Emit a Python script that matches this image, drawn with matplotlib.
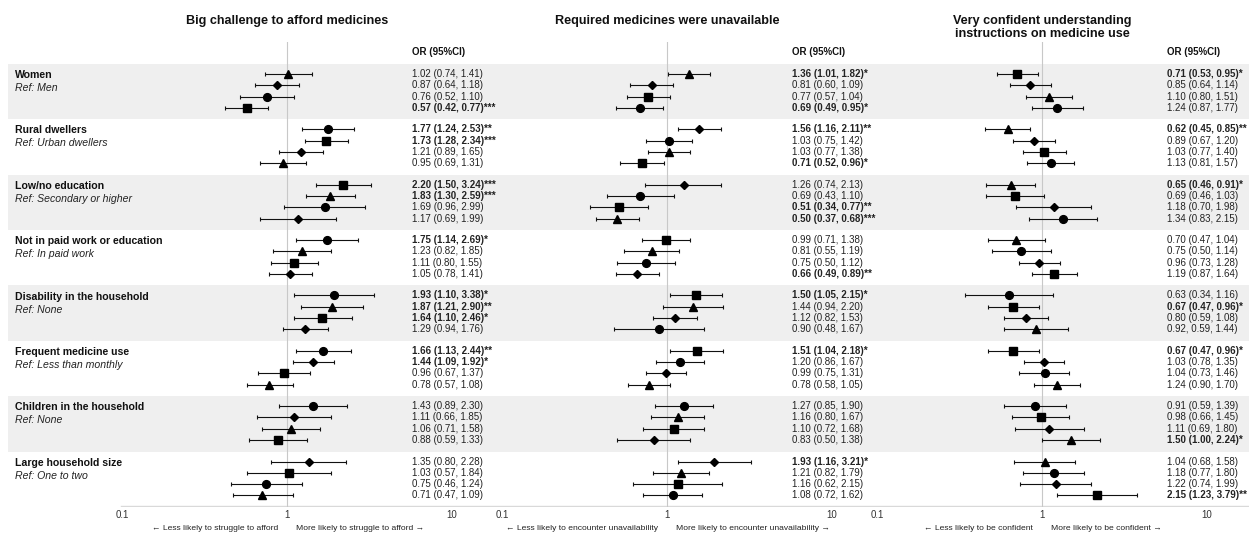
import matplotlib
matplotlib.use("Agg")
import matplotlib.pyplot as plt
import matplotlib.transforms as mtransforms

plt.rcParams["font.family"] = ["Liberation Sans", "DejaVu Sans"]

# ---- data -------------------------------------------------------------
groups = ["Women", "Rural dwellers", "Low/no education",
          "Not in paid work or education", "Disability in the household",
          "Frequent medicine use", "Children in the household",
          "Large household size"]
refs = ["Ref: Men", "Ref: Urban dwellers", "Ref: Secondary or higher",
        "Ref: In paid work", "Ref: None", "Ref: Less than monthly",
        "Ref: None", "Ref: One to two"]

titles = ["Big challenge to afford medicines",
          "Required medicines were unavailable",
          "Very confident understanding\ninstructions on medicine use"]
arrow_left = ["\u2190 Less likely to struggle to afford",
              "\u2190 Less likely to encounter unavailability",
              "\u2190 Less likely to be confident"]
arrow_right = ["More likely to struggle to afford \u2192",
               "More likely to encounter unavailability \u2192",
               "More likely to be confident \u2192"]
tick_vals = [0.1, 1, 10]
tick_labels = ["0.1", "1", "10"]

# shapes: sq=square, ci=circle, tr=triangle, di=diamond
afford_shape = [["tr", "di", "ci", "sq"], ["ci", "sq", "di", "tr"],
                ["sq", "tr", "ci", "di"], ["ci", "tr", "sq", "di"],
                ["ci", "tr", "sq", "di"], ["ci", "di", "sq", "tr"],
                ["ci", "di", "tr", "sq"], ["di", "sq", "ci", "tr"]]
afford_or = [[1.02, 0.87, 0.76, 0.57], [1.77, 1.73, 1.21, 0.95],
             [2.20, 1.83, 1.69, 1.17], [1.75, 1.23, 1.11, 1.05],
             [1.93, 1.87, 1.64, 1.29], [1.66, 1.44, 0.96, 0.78],
             [1.43, 1.11, 1.06, 0.88], [1.35, 1.03, 0.75, 0.71]]
afford_lo = [[0.74, 0.64, 0.52, 0.42], [1.24, 1.28, 0.89, 0.69],
             [1.50, 1.30, 0.96, 0.69], [1.14, 0.82, 0.80, 0.78],
             [1.10, 1.21, 1.10, 0.94], [1.13, 1.09, 0.67, 0.57],
             [0.89, 0.66, 0.71, 0.59], [0.80, 0.57, 0.46, 0.47]]
afford_hi = [[1.41, 1.18, 1.10, 0.77], [2.53, 2.34, 1.65, 1.31],
             [3.24, 2.59, 2.99, 1.99], [2.69, 1.85, 1.55, 1.41],
             [3.38, 2.90, 2.46, 1.76], [2.44, 1.92, 1.37, 1.08],
             [2.30, 1.85, 1.58, 1.33], [2.28, 1.84, 1.24, 1.09]]
afford_sig = [["", "", "", "***"], ["**", "***", "", ""],
              ["***", "***", "", ""], ["*", "", "", ""],
              ["*", "**", "*", ""], ["**", "*", "", ""],
              ["", "", "", ""], ["", "", "", ""]]

unavail_shape = [["tr", "di", "sq", "ci"], ["di", "ci", "tr", "sq"],
                 ["di", "ci", "sq", "tr"], ["sq", "tr", "ci", "di"],
                 ["sq", "tr", "di", "ci"], ["sq", "ci", "di", "tr"],
                 ["ci", "tr", "sq", "di"], ["di", "tr", "sq", "ci"]]
unavail_or = [[1.36, 0.81, 0.77, 0.69], [1.56, 1.03, 1.03, 0.71],
              [1.26, 0.69, 0.51, 0.50], [0.99, 0.81, 0.75, 0.66],
              [1.50, 1.44, 1.12, 0.90], [1.51, 1.20, 0.99, 0.78],
              [1.27, 1.16, 1.10, 0.83], [1.93, 1.21, 1.16, 1.08]]
unavail_lo = [[1.01, 0.60, 0.57, 0.49], [1.16, 0.75, 0.77, 0.52],
              [0.74, 0.43, 0.34, 0.37], [0.71, 0.55, 0.50, 0.49],
              [1.05, 0.94, 0.82, 0.48], [1.04, 0.86, 0.75, 0.58],
              [0.85, 0.80, 0.72, 0.50], [1.16, 0.82, 0.62, 0.72]]
unavail_hi = [[1.82, 1.09, 1.04, 0.95], [2.11, 1.42, 1.38, 0.96],
              [2.13, 1.10, 0.77, 0.68], [1.38, 1.19, 1.12, 0.89],
              [2.15, 2.20, 1.53, 1.67], [2.18, 1.67, 1.31, 1.05],
              [1.90, 1.67, 1.68, 1.38], [3.21, 1.79, 2.15, 1.62]]
unavail_sig = [["*", "", "", "*"], ["**", "", "", "*"],
               ["", "", "**", "***"], ["", "", "", "**"],
               ["*", "", "", ""], ["*", "", "", ""],
               ["", "", "", ""], ["*", "", "", ""]]

confid_shape = [["sq", "di", "tr", "ci"], ["tr", "di", "sq", "ci"],
                ["tr", "sq", "di", "ci"], ["tr", "ci", "di", "sq"],
                ["ci", "sq", "di", "tr"], ["sq", "di", "ci", "tr"],
                ["ci", "sq", "di", "tr"], ["tr", "ci", "di", "sq"]]
confid_or = [[0.71, 0.85, 1.10, 1.24], [0.62, 0.89, 1.03, 1.13],
             [0.65, 0.69, 1.18, 1.34], [0.70, 0.75, 0.96, 1.19],
             [0.63, 0.67, 0.80, 0.92], [0.67, 1.03, 1.04, 1.24],
             [0.91, 0.98, 1.11, 1.50], [1.04, 1.18, 1.22, 2.15]]
confid_lo = [[0.53, 0.64, 0.80, 0.87], [0.45, 0.67, 0.77, 0.81],
             [0.46, 0.46, 0.70, 0.83], [0.47, 0.50, 0.73, 0.87],
             [0.34, 0.47, 0.59, 0.59], [0.47, 0.78, 0.73, 0.90],
             [0.59, 0.66, 0.69, 1.00], [0.68, 0.77, 0.74, 1.23]]
confid_hi = [[0.95, 1.14, 1.51, 1.77], [0.85, 1.20, 1.40, 1.57],
             [0.91, 1.03, 1.98, 2.15], [1.04, 1.14, 1.28, 1.64],
             [1.16, 0.96, 1.08, 1.44], [0.96, 1.35, 1.46, 1.70],
             [1.39, 1.45, 1.80, 2.24], [1.58, 1.80, 1.99, 3.79]]
confid_sig = [["*", "", "", ""], ["**", "", "", ""],
              ["*", "", "", ""], ["", "", "", ""],
              ["", "*", "", ""], ["*", "", "", ""],
              ["", "", "", "*"], ["", "", "", "**"]]

panels = [
    (afford_shape, afford_or, afford_lo, afford_hi, afford_sig),
    (unavail_shape, unavail_or, unavail_lo, unavail_hi, unavail_sig),
    (confid_shape, confid_or, confid_lo, confid_hi, confid_sig),
]

# the source table prints this one cell without its opening bracket
text_override = {(2, 4, 3): "0.92, 0.59, 1.44)"}

# ---- layout -----------------------------------------------------------
W, H = 1249, 534
top_px, bot_px = 42, 507
row_px = 11.3
group_step = 4.9
band_pad = 0.88
y_hi = -band_pad - (64 - top_px) / row_px
y_lo = -band_pad + (bot_px - 64) / row_px
decade_px = 165
ax_w = 370
panel_left = [122, 502, 877]

shape_style = {"sq": ("s", 5.6), "ci": ("o", 5.6),
               "tr": ("^", 6.0), "di": ("D", 3.7)}

fig = plt.figure(figsize=(W / 100, H / 100), dpi=100)

# background: alternating bands and group labels
bg = fig.add_axes([8 / W, (H - bot_px) / H, (W - 8) / W, (bot_px - top_px) / H])
bg.set_xlim(8, W)
bg.set_ylim(y_lo, y_hi)
bg.axis("off")
for i in range(len(groups)):
    y0 = i * group_step
    if i % 2 == 0:
        bg.axhspan(y0 - band_pad, y0 - band_pad + group_step,
                   color="#efefef", lw=0, zorder=0)
    bg.text(15, y0 + 0.1, groups[i], fontsize=7.6, fontweight="bold",
            va="center", ha="left", color="#111111")
    bg.text(15, y0 + 1.25, refs[i], fontsize=7.6, style="italic",
            va="center", ha="left", color="#222222")
bg.axhline(y_lo - 0.05, xmin=(121 - 8) / (W - 8), xmax=1,
           color="#d9d9d9", lw=1.0)

for k, (shape, orv, lo, hi, sig) in enumerate(panels):
    ax = fig.add_axes([panel_left[k] / W, (H - bot_px) / H, ax_w / W,
                       (bot_px - top_px) / H])
    ax.set_xscale("log")
    ax.set_xlim(0.1, 10 ** (-1 + ax_w / decade_px))
    ax.set_ylim(y_lo, y_hi)
    ax.patch.set_alpha(0)
    for s in ax.spines.values():
        s.set_visible(False)
    ax.set_xticks(tick_vals)
    ax.set_xticklabels(tick_labels)
    ax.minorticks_off()
    ax.tick_params(axis="x", length=0, pad=2.5, labelsize=7,
                   labelcolor="#333333")
    ax.set_yticks([])
    ax.axvline(1, color="#c8c8c8", lw=0.8, zorder=0)

    ax.text(5.7, y_hi + 0.9, "OR (95%CI)", fontsize=7, fontweight="bold",
            va="center", ha="left", color="#111111")

    for i in range(len(groups)):
        for j in range(4):
            y = i * group_step + j
            m, ms = shape_style[shape[i][j]]
            ax.errorbar(orv[i][j], y,
                        xerr=[[orv[i][j] - lo[i][j]], [hi[i][j] - orv[i][j]]],
                        fmt="none", ecolor="#111111", elinewidth=0.8,
                        capsize=1.6, capthick=0.8, zorder=2)
            ax.plot(orv[i][j], y, marker=m, ms=ms, color="black",
                    ls="none", zorder=3)
            label = "%.2f (%.2f, %.2f)%s" % (orv[i][j], lo[i][j],
                                             hi[i][j], sig[i][j])
            label = text_override.get((k, i, j), label)
            ax.text(5.7, y, label, fontsize=7,
                    fontweight="bold" if sig[i][j] else "normal",
                    va="center", ha="left", color="#222222")

    trans = mtransforms.blended_transform_factory(ax.transData, fig.transFigure)
    ax.text(1, 1 - 15 / H, titles[k], transform=trans, ha="center", va="top",
            fontsize=9.1, fontweight="bold", linespacing=1.1,
            color="#111111")
    t_left = mtransforms.offset_copy(trans, fig=fig, x=-9, units="dots")
    t_right = mtransforms.offset_copy(trans, fig=fig, x=9, units="dots")
    ax.text(1, 1 - 529 / H, arrow_left[k], transform=t_left, ha="right",
            va="center", fontsize=6.1, color="#222222")
    ax.text(1, 1 - 529 / H, arrow_right[k], transform=t_right, ha="left",
            va="center", fontsize=6.1, color="#222222")

fig.savefig("out.png", dpi=100)
